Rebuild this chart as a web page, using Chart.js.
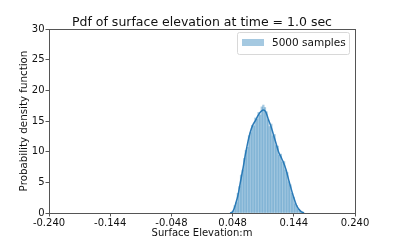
<!DOCTYPE html>
<html>
<head>
<meta charset="utf-8">
<script src="https://cdn.jsdelivr.net/npm/chart.js@4"></script>
<style>
  html, body { margin: 0; padding: 0; background: #fff; }
  #wrap { width: 395px; height: 240px; }
</style>
</head>
<body>
<div id="wrap"><canvas id="pdfChart"></canvas></div>
<script>
// histogram (density)
const binCenters = [
  0.04625, 0.04875, 0.05125, 0.05375, 0.05625, 0.05875, 0.06125, 0.06375,
  0.06625, 0.06875, 0.07125, 0.07375, 0.07625, 0.07875, 0.08125, 0.08375,
  0.08625, 0.08875, 0.09125, 0.09375, 0.09625, 0.09875, 0.10125, 0.10375,
  0.10625, 0.10875, 0.11125, 0.11375, 0.11625, 0.11875, 0.12125, 0.12375,
  0.12625, 0.12875, 0.13125, 0.13375, 0.13625, 0.13875, 0.14125, 0.14375,
  0.14625, 0.14875, 0.15125, 0.15375, 0.15625, 0.15875
];
const binDensity = [
  0.1, 0.3, 1.2, 1.7, 3.2, 4.3, 6.2, 7.0,
  8.9, 10.2, 10.7, 12.6, 13.1, 14.3, 14.2, 15.5,
  15.3, 16.4, 16.0, 17.3, 17.6, 17.2, 16.5, 15.2,
  14.1, 14.5, 12.6, 12.8, 11.0, 10.9, 9.4, 9.6,
  8.3, 8.4, 7.0, 6.6, 5.1, 4.6, 3.2, 2.6,
  1.5, 1.2, 0.6, 0.4, 0.2, 0.1
];

// kde curve
const kdeX = [
  0.044, 0.047, 0.050, 0.053, 0.056, 0.060, 0.064, 0.068, 0.072, 0.076,
  0.080, 0.084, 0.088, 0.092, 0.096, 0.100, 0.104, 0.108, 0.112, 0.116,
  0.120, 0.124, 0.128, 0.132, 0.136, 0.140, 0.144, 0.148, 0.152, 0.156, 0.160
];
const kdeY = [
  0, 0.1, 0.6, 1.6, 2.7, 4.9, 7.1, 9.5, 11.6, 13.3,
  14.4, 15.1, 15.9, 16.5, 16.8, 16.5, 15.3, 14.2, 12.8, 11.4,
  10.0, 9.1, 8.2, 7.0, 5.4, 3.9, 2.5, 1.3, 0.6, 0.2, 0.05
];

const xTicks = [-0.240, -0.144, -0.048, 0.048, 0.144, 0.240];
const yTicks = [0, 5, 10, 15, 20, 25, 30];

const chartTitle = 'Pdf of surface elevation at time = 1.0 sec';
const fontFamily = "'DejaVu Sans', sans-serif";

// frame on all four sides, title centred over the axes, legend box upper right
const framePlugin = {
  id: 'frame',
  afterDraw(chart) {
    const { ctx, chartArea: a } = chart;
    ctx.save();
    ctx.strokeStyle = '#555';
    ctx.lineWidth = 1;
    ctx.strokeRect(a.left + 0.5, a.top + 0.5, a.right - a.left, a.bottom - a.top);

    ctx.fillStyle = '#111';
    ctx.font = "12.5px " + fontFamily;
    ctx.textAlign = 'center';
    ctx.textBaseline = 'alphabetic';
    ctx.fillText(chartTitle, (a.left + a.right) / 2, 26);

    const ds = chart.data.datasets[0];
    const bx = 237.5, by = 32.5, bw = 112, bh = 22;
    ctx.fillStyle = 'rgba(255,255,255,0.8)';
    ctx.strokeStyle = '#d8d8d8';
    ctx.beginPath();
    ctx.roundRect(bx, by, bw, bh, 2);
    ctx.fill();
    ctx.stroke();
    ctx.fillStyle = ds.backgroundColor;
    ctx.fillRect(242, 39, 22, 7);
    ctx.fillStyle = '#111';
    ctx.font = "10.5px " + fontFamily;
    ctx.textAlign = 'left';
    ctx.textBaseline = 'middle';
    ctx.fillText(ds.label, 272, 43);
    ctx.restore();
  }
};

new Chart(document.getElementById('pdfChart'), {
  type: 'bar',
  data: {
    datasets: [{
      type: 'bar',
      label: '5000 samples',
      data: binCenters.map((x, i) => ({ x: x, y: binDensity[i] })),
      backgroundColor: 'rgba(31,119,180,0.4)',
      borderWidth: 0,
      barPercentage: 1,
      categoryPercentage: 1
    }, {
      type: 'line',
      label: 'kde',
      data: kdeX.map((x, i) => ({ x: x, y: kdeY[i] })),
      borderColor: '#2f7bb8',
      borderWidth: 1.5,
      pointRadius: 0,
      fill: false,
      cubicInterpolationMode: 'monotone'
    }]
  },
  options: {
    responsive: true,
    maintainAspectRatio: false,
    animation: false,
    layout: { padding: { left: 0, right: 40, top: 29, bottom: 0 } },
    plugins: {
      legend: { display: false },
      tooltip: { enabled: false },
      title: { display: false }
    },
    scales: {
      x: {
        type: 'linear',
        offset: false,
        min: -0.24,
        max: 0.24,
        afterBuildTicks: scale => { scale.ticks = xTicks.map(v => ({ value: v })); },
        afterFit: scale => { scale.height = 27; },
        grid: { display: true, drawOnChartArea: false, offset: false, tickLength: 3.5, tickColor: '#555' },
        border: { color: '#555' },
        ticks: {
          color: '#111',
          padding: 1,
          maxRotation: 0,
          font: { family: fontFamily, size: 10 },
          callback: v => v.toFixed(3)
        },
        title: {
          display: true,
          text: 'Surface Elevation:m',
          color: '#111',
          font: { family: fontFamily, size: 10 },
          padding: { top: 0, bottom: 1 }
        }
      },
      y: {
        min: 0,
        max: 30,
        afterBuildTicks: scale => { scale.ticks = yTicks.map(v => ({ value: v })); },
        afterFit: scale => { scale.width = 49; },
        grid: { display: true, drawOnChartArea: false, tickLength: 3.5, tickColor: '#555' },
        border: { color: '#555' },
        ticks: {
          color: '#111',
          padding: 1,
          font: { family: fontFamily, size: 10 }
        },
        title: {
          display: true,
          text: 'Probability density function',
          color: '#111',
          font: { family: fontFamily, size: 10.3 },
          padding: { top: 18.5, bottom: 0 }
        }
      }
    }
  },
  plugins: [framePlugin]
});
</script>
</body>
</html>
